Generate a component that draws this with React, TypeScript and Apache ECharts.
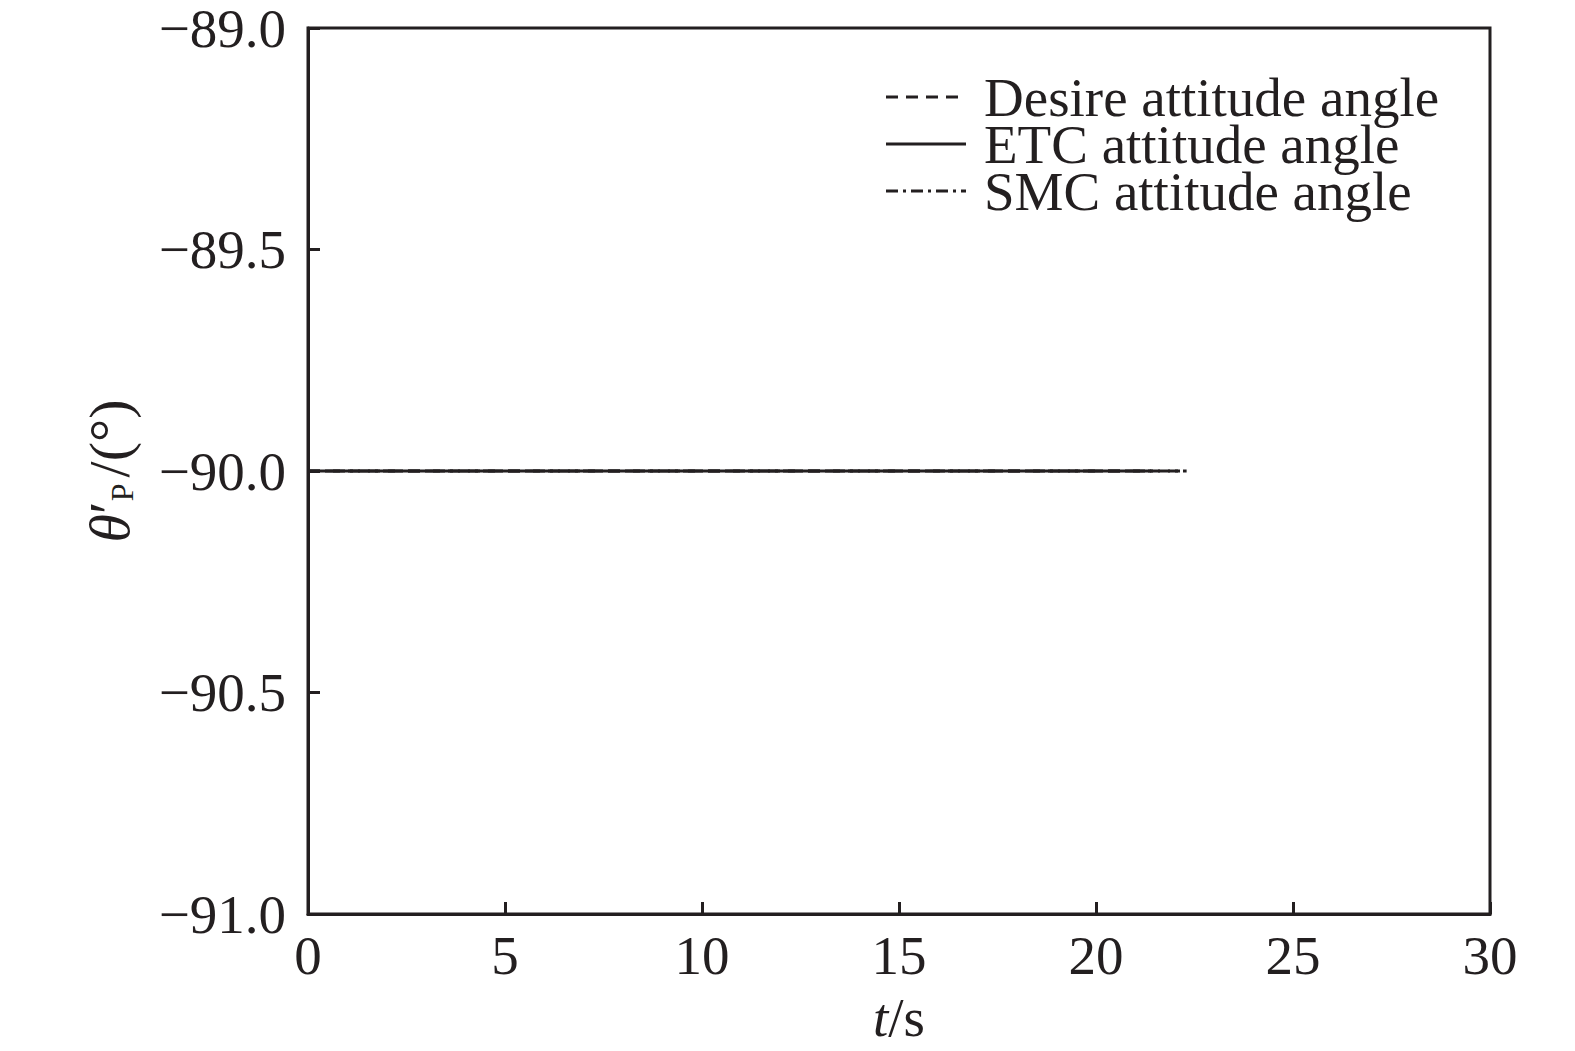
import React, { useEffect, useRef } from "react";
import * as echarts from "echarts";

const seriesNames = ["Desire attitude angle", "ETC attitude angle", "SMC attitude angle"];
const desireT = [0, 22.2];
const desireV = [-90, -90];
const etcT = [0, 21.4];
const etcV = [-90, -90];
const smcT = [0, 22.3];
const smcV = [-90, -90];
const xTicks = [0, 5, 10, 15, 20, 25, 30];
const yTicks = [-91, -90.5, -90, -89.5, -89];

const FONT = "Liberation Serif";
const INK = "#231f20";
const FS = 55;
const dashes: (number[] | null)[] = [[12, 8], null, [12, 5, 3, 5]];

function pairs(t: number[], v: number[]) {
  return t.map((x, i) => [x, v[i]]);
}

export default function App() {
  const ref = useRef<HTMLDivElement>(null);
  useEffect(() => {
    if (!ref.current) return;
    const chart = echarts.init(ref.current, null, { renderer: "svg" });
    const lineCommon = { color: INK, width: 3 };
    const legendRowY = [97, 144, 191];
    const legendGraphics: any[] = [];
    seriesNames.forEach((name, i) => {
      legendGraphics.push({
        type: "line",
        shape: { x1: 886, y1: legendRowY[i], x2: 966, y2: legendRowY[i] },
        style: { stroke: INK, lineWidth: 3, lineDash: dashes[i] || undefined },
      });
      legendGraphics.push({
        type: "text",
        x: 984,
        y: legendRowY[i],
        style: {
          text: name,
          fontFamily: FONT,
          fontSize: FS,
          lineHeight: 44,
          fill: INK,
          verticalAlign: "middle",
        },
      });
    });
    chart.setOption({
      animation: false,
      backgroundColor: "#fff",
      textStyle: { fontFamily: FONT, color: INK },
      grid: {
        left: 308,
        top: 28,
        width: 1182,
        height: 886,
        show: true,
        borderColor: INK,
        borderWidth: 3,
        backgroundColor: "transparent",
        containLabel: false,
        outerBoundsMode: "none",
      },
      graphic: legendGraphics,
      xAxis: {
        type: "value",
        min: xTicks[0],
        max: xTicks[xTicks.length - 1],
        interval: 5,
        name: "{i|t}{n|/s}",
        nameLocation: "middle",
        nameGap: 76,
        nameTextStyle: {
          rich: {
            i: { fontFamily: FONT, fontSize: FS, fontStyle: "italic", color: INK },
            n: { fontFamily: FONT, fontSize: FS, color: INK },
          },
        },
        axisLine: { show: true, lineStyle: { color: INK, width: 3 } },
        axisTick: { show: true, inside: true, length: 12, lineStyle: { color: INK, width: 3 } },
        axisLabel: { fontFamily: FONT, fontSize: FS, color: INK, margin: 14 },
        splitLine: { show: false },
      },
      yAxis: {
        type: "value",
        min: yTicks[0],
        max: yTicks[yTicks.length - 1],
        interval: 0.5,
        name: "{t|θ}{p|′}{s|P}{n|/(°)}",
        nameLocation: "middle",
        nameGap: 170,
        nameRotate: 90,
        nameTextStyle: {
          rich: {
            t: { fontFamily: FONT, fontSize: 58, fontStyle: "italic", color: INK },
            p: { fontFamily: FONT, fontSize: 58, color: INK },
            s: { fontFamily: FONT, fontSize: 32, color: INK, verticalAlign: "bottom", padding: [24, 6, 0, 0] },
            n: { fontFamily: FONT, fontSize: 58, color: INK },
          },
        },
        axisLine: { show: true, lineStyle: { color: INK, width: 3 } },
        axisTick: { show: true, inside: true, length: 12, lineStyle: { color: INK, width: 3 } },
        axisLabel: {
          fontFamily: FONT,
          fontSize: FS,
          lineHeight: 40,
          color: INK,
          margin: 22,
          formatter: (v: number) => v.toFixed(1).replace("-", "−"),
        },
        splitLine: { show: false },
      },
      series: [
        {
          name: seriesNames[0],
          type: "line",
          data: pairs(desireT, desireV),
          showSymbol: false,
          symbol: "none",
          lineStyle: { ...lineCommon, type: dashes[0] },
          z: 1,
        },
        {
          name: seriesNames[1],
          type: "line",
          data: pairs(etcT, etcV),
          showSymbol: false,
          symbol: "none",
          lineStyle: { ...lineCommon, type: "solid" },
          z: 3,
        },
        {
          name: seriesNames[2],
          type: "line",
          data: pairs(smcT, smcV),
          showSymbol: false,
          symbol: "none",
          lineStyle: { ...lineCommon, type: dashes[2] },
          z: 2,
        },
      ],
    });
    return () => chart.dispose();
  }, []);
  return (
    <div
      ref={ref}
      style={{ position: "fixed", left: 0, top: 0, width: 1575, height: 1051, background: "#fff" }}
    />
  );
}
